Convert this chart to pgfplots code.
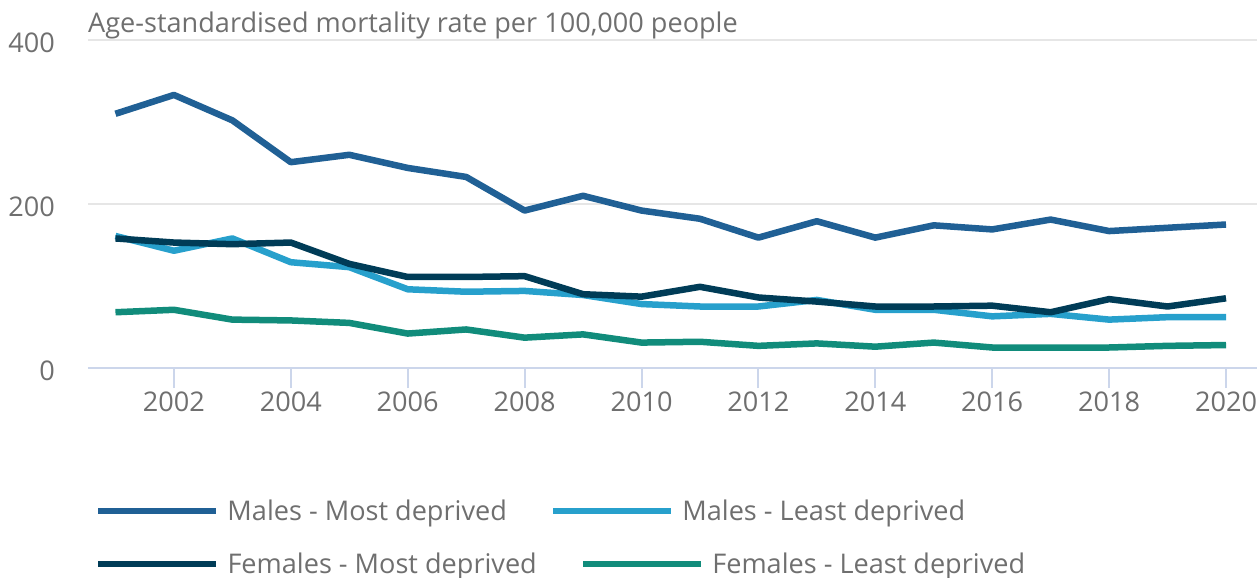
\documentclass[border=0pt]{standalone}
\usepackage{fontspec}
\setmainfont{Open Sans}
\usepackage{pgfplots}
\pgfplotsset{compat=1.18}
\definecolor{cA}{HTML}{206095}
\definecolor{cB}{HTML}{27A0CC}
\definecolor{cC}{HTML}{003C57}
\definecolor{cD}{HTML}{118C7B}
\definecolor{txt}{HTML}{6F6F6F}
\definecolor{axc}{HTML}{CCD6EB}
\definecolor{grc}{HTML}{E6E6E6}
\newcommand{\ff}{\fontsize{27.2}{32}\selectfont}
\begin{document}
\begin{tikzpicture}
\useasboundingbox (-88bp,-210bp) rectangle (1169bp,368bp);
\pgfplotsset{
  legimg/.style={legend image code/.code={\draw[##1] (0bp,0bp) -- (118bp,0bp);}},
  mylegend/.style={legend style={draw=none, fill=none, inner sep=0pt, outer sep=0pt,
     font=\ff, text=txt, legend columns=-1,
     nodes={inner sep=0pt},
     /tikz/every odd column/.append style={column sep=8bp},
     /tikz/every even column/.append style={column sep=43bp}},
     legend cell align=left}
}
\begin{axis}[
  at={(0,0)}, anchor=south west,
  scale only axis, width=1169bp, height=328bp,
  xmin=2000.53, xmax=2020.53, ymin=0, ymax=400,
  axis x line*=bottom, axis y line*=left,
  x axis line style={draw=axc, line width=2.5bp},
  y axis line style={draw=none},
  xtick={2002,2004,...,2020}, ytick={0,200,400},
  ymajorgrids, grid style={draw=grc, line width=2bp},
  tick align=outside, major tick length=20bp,
  xtick style={draw=axc, line width=2bp},
  ytick style={draw=none},
  /pgf/number format/assume math mode=true,
  /pgf/number format/set thousands separator={},
  ticklabel style={font=\ff, text=txt},
  xticklabel style={inner sep=0pt, anchor=north, yshift=-4bp},
  yticklabel style={inner sep=0pt, anchor=east, xshift=-13bp, yshift=-3bp},
  every axis plot/.append style={line width=6.5bp, line join=round},
  clip=false,
  legimg, mylegend,
  legend style={at={(rel axis cs:0,0)}, anchor=west, xshift=7bp, yshift=-143bp},
]
\addplot[cA] coordinates {(2001,310) (2002,333) (2003,302) (2004,251) (2005,260) (2006,244) (2007,233) (2008,192) (2009,210) (2010,192) (2011,182) (2012,159) (2013,179) (2014,159) (2015,174) (2016,169) (2017,181) (2018,167) (2019,171) (2020,175)};
\addlegendentry{Males - Most deprived}
\addplot[cB] coordinates {(2001,161) (2002,143) (2003,158) (2004,129) (2005,123) (2006,96) (2007,93) (2008,94) (2009,89) (2010,78) (2011,75) (2012,75) (2013,83) (2014,71) (2015,71) (2016,63) (2017,66) (2018,59) (2019,62) (2020,62)};
\addlegendentry{Males - Least deprived}
\addplot[cC, forget plot] coordinates {(2001,158) (2002,153) (2003,151) (2004,153) (2005,127) (2006,111) (2007,111) (2008,112) (2009,90) (2010,87) (2011,99) (2012,86) (2013,81) (2014,75) (2015,75) (2016,76) (2017,68) (2018,84) (2019,75) (2020,85)};
\addplot[cD, forget plot] coordinates {(2001,68) (2002,71) (2003,59) (2004,58) (2005,55) (2006,42) (2007,47) (2008,37) (2009,41) (2010,31) (2011,32) (2012,27) (2013,30) (2014,26) (2015,31) (2016,25) (2017,25) (2018,25) (2019,27) (2020,28)};
\node[anchor=base west, inner sep=0pt, font=\ff, text=txt] at (rel axis cs:0,1) [yshift=7bp] {Age-standardised mortality rate per 100,000 people};
\end{axis}
\begin{axis}[
  at={(0,0)}, anchor=south west,
  scale only axis, width=1169bp, height=328bp,
  xmin=0, xmax=1, ymin=0, ymax=1, hide axis,
  legimg, mylegend,
  legend style={at={(rel axis cs:0,0)}, anchor=west, xshift=7bp, yshift=-196bp},
]
\addlegendimage{cC, line width=6.5bp}
\addlegendentry{Females - Most deprived}
\addlegendimage{cD, line width=6.5bp}
\addlegendentry{Females - Least deprived}
\end{axis}
\end{tikzpicture}
\end{document}
